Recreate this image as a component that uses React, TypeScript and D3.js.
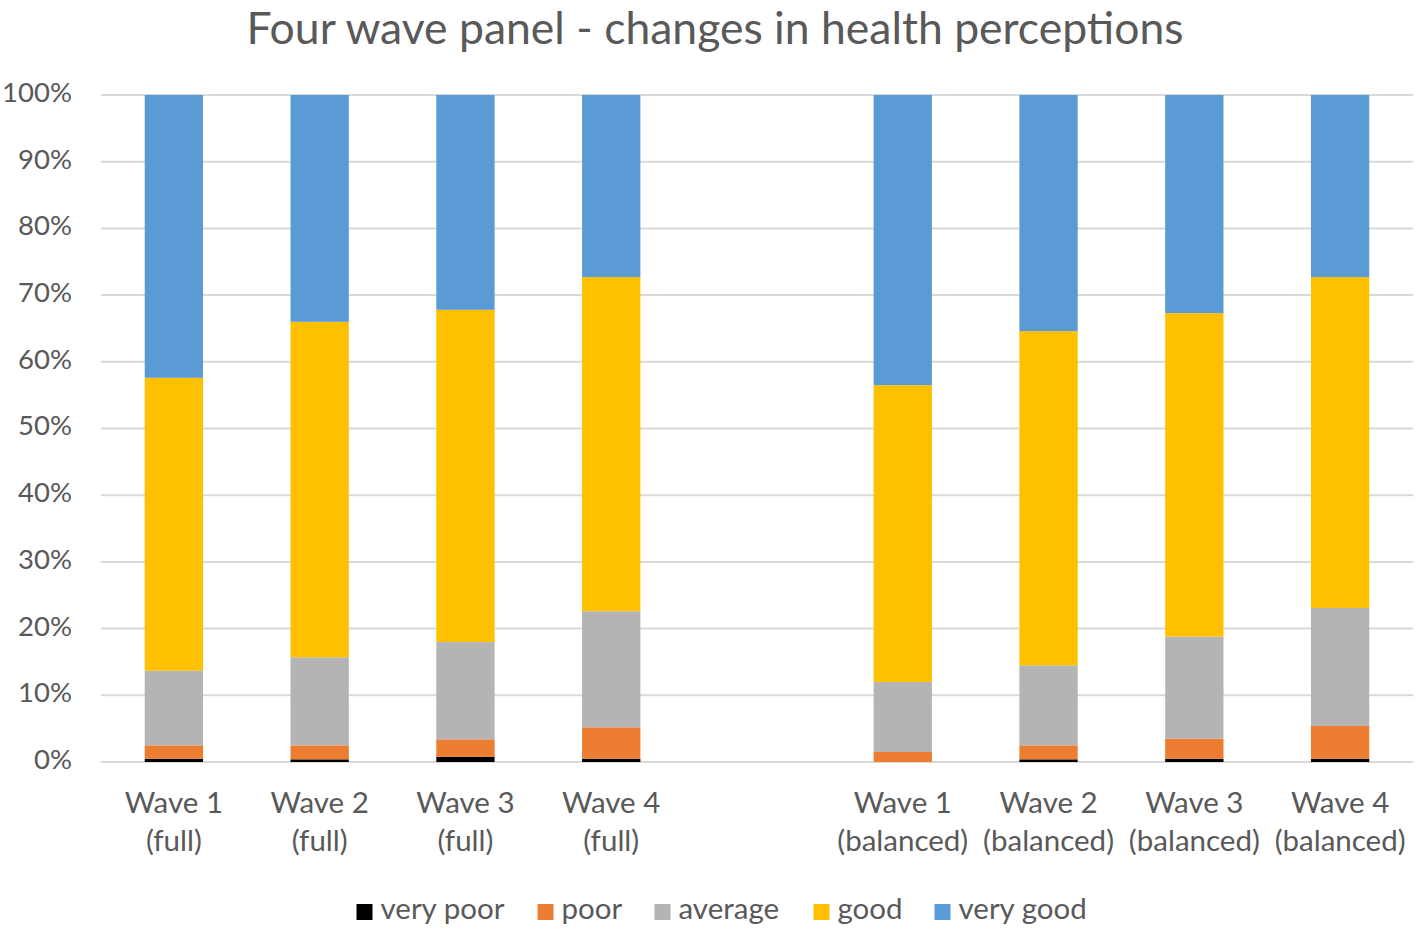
import { useMemo } from "react";
import * as d3 from "d3";

const width = 1418;
const height = 932;

// 9 slots; the middle one is an empty gap between the two panels
const waveLabels = ["Wave 1", "Wave 2", "Wave 3", "Wave 4", "", "Wave 1", "Wave 2", "Wave 3", "Wave 4"];
const groupLabels = ["(full)", "(full)", "(full)", "(full)", "", "(balanced)", "(balanced)", "(balanced)", "(balanced)"];

const veryPoor = [0.5, 0.4, 0.8, 0.5, 0, 0, 0.4, 0.5, 0.5];
const poor = [2.0, 2.1, 2.6, 4.7, 0, 1.5, 2.1, 3.0, 4.9];
const average = [11.2, 13.2, 14.6, 17.4, 0, 10.5, 12.0, 15.3, 17.7];
const good = [43.9, 50.3, 49.8, 50.1, 0, 44.5, 50.1, 48.5, 49.6];
const veryGood = [42.4, 34.0, 32.2, 27.3, 0, 43.5, 35.4, 32.7, 27.3];

const seriesNames = ["very poor", "poor", "average", "good", "very good"];
const seriesColors = ["#000000", "#ed7d31", "#b4b4b4", "#ffc000", "#5b9bd5"];
const yTicks = [0, 10, 20, 30, 40, 50, 60, 70, 80, 90, 100];

const FONT = "Lato, 'Open Sans', sans-serif";
const TEXT = "#595959";

export default function App() {
  const margin = { top: 95, right: 5, bottom: 170, left: 101 };
  const innerW = width - margin.left - margin.right;
  const innerH = height - margin.top - margin.bottom;

  const keys = waveLabels.map((_, i) => String(i));
  const x = d3.scaleBand().domain(keys).range([margin.left, margin.left + innerW]).paddingInner(0.6).paddingOuter(0.3);
  const y = d3.scaleLinear().domain([0, 100]).range([margin.top + innerH, margin.top]);

  const stacked = useMemo(() => {
    const rows = keys.map((k, i) => ({
      key: k,
      "very poor": veryPoor[i],
      poor: poor[i],
      average: average[i],
      good: good[i],
      "very good": veryGood[i],
    }));
    return d3.stack<any>().keys(seriesNames)(rows);
  }, []);

  // approximate text widths of the legend entries, used for centring
  const textWidths = [124, 60, 102, 64, 127];
  const gap = 33;
  const itemWidths = textWidths.map((w) => 24 + w);
  const totalLegend = d3.sum(itemWidths) + gap * (itemWidths.length - 1);
  let lx = 721 - totalLegend / 2;
  const legendPos = itemWidths.map((w) => {
    const p = lx;
    lx += w + gap;
    return p;
  });

  return (
    <svg width={width} height={height} style={{ display: "block", position: "absolute", left: 0, top: 0, background: "#fff" }}>
      <text x={715} y={44} textAnchor="middle" fontFamily={FONT} fontSize={44.5} fill={TEXT}>
        Four wave panel - changes in health perceptions
      </text>

      {yTicks.map((t) => (
        <g key={t}>
          <line x1={margin.left} x2={margin.left + innerW} y1={y(t)} y2={y(t)} stroke="#d9d9d9" strokeWidth={2} />
          <text x={72} y={y(t)} textAnchor="end" dominantBaseline="middle" fontFamily={FONT} fontSize={27.5} fill={TEXT}>
            {t}%
          </text>
        </g>
      ))}

      {stacked.map((layer, si) => (
        <g key={layer.key} fill={seriesColors[si]}>
          {layer.map((d, i) =>
            d[1] - d[0] > 0 ? (
              <rect
                key={i}
                x={x(keys[i])}
                width={x.bandwidth()}
                y={y(d[1])}
                height={y(d[0]) - y(d[1])}
              />
            ) : null
          )}
        </g>
      ))}

      {keys.map((k, i) => {
        const cx = (x(k) ?? 0) + x.bandwidth() / 2;
        return (
          <text key={k} textAnchor="middle" fontFamily={FONT} fontSize={29.5} fill={TEXT}>
            <tspan x={cx} y={813}>{waveLabels[i]}</tspan>
            <tspan x={cx} y={851}>{groupLabels[i]}</tspan>
          </text>
        );
      })}

      {seriesNames.map((name, i) => (
        <g key={name} transform={`translate(${legendPos[i]},912)`}>
          <rect x={0} y={-8} width={16} height={16} fill={seriesColors[i]} />
          <text x={24} y={0} dominantBaseline="middle" fontFamily={FONT} fontSize={29.5} fill={TEXT}>
            {name}
          </text>
        </g>
      ))}
    </svg>
  );
}
